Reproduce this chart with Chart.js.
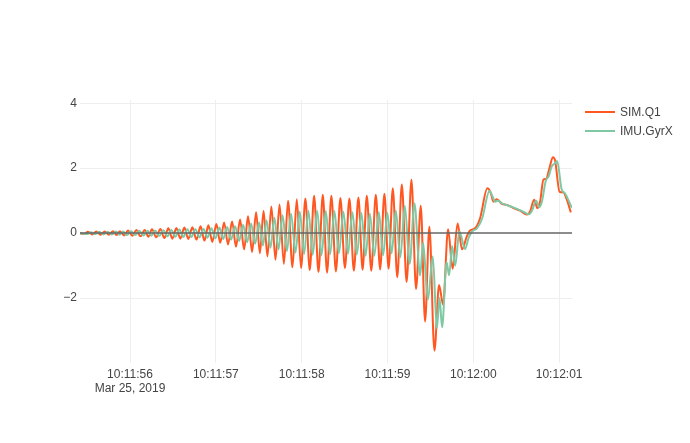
<!DOCTYPE html>
<html>
<head>
<meta charset="utf-8">
<script src="https://cdn.jsdelivr.net/npm/chart.js@4.4.0/dist/chart.umd.min.js"></script>
<style>
  body { margin: 0; background: #fff; }
  #wrap { position: relative; width: 690px; height: 443px; }
  .leg { position: absolute; left: 585px; font: 12px "Liberation Sans", Arial, sans-serif; color: #444; }
  .leg span { display: inline-block; width: 30px; height: 2px; vertical-align: middle; margin-right: 5px; position: relative; top: -1px; }
</style>
</head>
<body>
<div id="wrap">
  <canvas id="grafico" width="690" height="443"></canvas>
  <div class="leg" style="top:105px"><span style="background:#ff5722"></span>SIM.Q1</div>
  <div class="leg" style="top:124px"><span style="background:#80c8a4"></span>IMU.GyrX</div>
</div>
<script>
// tiempo en segundos desde 10:11:00 (Mar 25, 2019)
const simTiempo = [55.417, 55.464, 55.510, 55.559, 55.607, 55.656, 55.705, 55.754, 55.802, 55.843,
    55.883, 55.930, 55.977, 56.026, 56.073, 56.122, 56.171, 56.214, 56.256, 56.305,
    56.353, 56.400, 56.446, 56.493, 56.540, 56.586, 56.633, 56.679, 56.726, 56.774,
    56.822, 56.867, 56.913, 56.959, 57.006, 57.051, 57.096, 57.142, 57.189, 57.235,
    57.282, 57.329, 57.375, 57.422, 57.469, 57.513, 57.556, 57.601, 57.647, 57.695,
    57.742, 57.793, 57.841, 57.893, 57.943, 57.993, 58.043, 58.094, 58.145, 58.196,
    58.246, 58.296, 58.346, 58.399, 58.451, 58.504, 58.556, 58.608, 58.661, 58.710,
    58.759, 58.811, 58.864, 58.914, 58.964, 59.013, 59.062, 59.114, 59.167, 59.223,
    59.279, 59.333, 59.388, 59.438, 59.488, 59.547, 59.601, 59.648, 59.706, 59.759,
    59.817, 59.869, 59.924, 59.963, 60.021, 60.079, 60.164, 60.204, 60.234, 60.274,
    60.332, 60.390, 60.467, 60.545, 60.624, 60.662, 60.709, 60.747, 60.779, 60.817,
    60.848, 60.887, 60.927, 60.953, 61.004, 61.050, 61.090, 61.136];
const simValores = [0, -0.03, 0.04, -0.04, 0.05, -0.05, 0.05, -0.05, 0.06, -0.06,
    0.06, -0.07, 0.08, -0.08, 0.1, -0.1, 0.1, -0.11, 0.12, -0.13,
    0.13, -0.15, 0.15, -0.17, 0.16, -0.17, 0.17, -0.18, 0.18, -0.2,
    0.21, -0.23, 0.24, -0.27, 0.28, -0.3, 0.33, -0.35, 0.36, -0.42,
    0.42, -0.5, 0.52, -0.58, 0.64, -0.62, 0.68, -0.72, 0.82, -0.82,
    0.88, -0.95, 1.0, -1.05, 1.04, -1.08, 1.07, -1.14, 1.15, -1.2,
    1.18, -1.22, 1.15, -1.18, 1.08, -1.08, 1.07, -1.16, 1.1, -1.13,
    1.15, -1.16, 1.18, -1.12, 1.21, -1.1, 1.38, -1.36, 1.5, -1.5,
    1.64, -1.72, 0.84, -2.72, 0.2, -3.62, -1.6, -2.2, 0.12, -1.1,
    0.3, -0.5, -0.1, 0.08, 0.15, 0.46, 1.38, 1.23, 0.97, 1.04,
    0.9, 0.87, 0.77, 0.69, 0.57, 0.67, 1.03, 0.77, 0.98, 1.65,
    1.67, 2.0, 2.34, 2.24, 1.28, 1.25, 1.03, 0.64];

const imuTiempo = [55.417, 55.499, 55.545, 55.594, 55.642, 55.691, 55.740, 55.789, 55.837, 55.878,
    55.918, 55.965, 56.012, 56.061, 56.108, 56.157, 56.206, 56.249, 56.291, 56.340,
    56.388, 56.435, 56.481, 56.528, 56.575, 56.621, 56.668, 56.714, 56.761, 56.809,
    56.857, 56.902, 56.948, 56.994, 57.041, 57.086, 57.131, 57.177, 57.224, 57.270,
    57.317, 57.364, 57.410, 57.457, 57.504, 57.548, 57.591, 57.636, 57.682, 57.730,
    57.777, 57.828, 57.876, 57.928, 57.978, 58.028, 58.078, 58.129, 58.180, 58.231,
    58.281, 58.331, 58.381, 58.434, 58.486, 58.539, 58.591, 58.643, 58.696, 58.745,
    58.794, 58.846, 58.899, 58.949, 58.999, 59.048, 59.097, 59.149, 59.202, 59.258,
    59.314, 59.380, 59.415, 59.470, 59.528, 59.575, 59.607, 59.636, 59.689, 59.718,
    59.753, 59.788, 59.838, 59.904, 59.945, 59.986, 60.044, 60.103, 60.188, 60.225,
    60.254, 60.289, 60.347, 60.406, 60.487, 60.569, 60.645, 60.685, 60.732, 60.770,
    60.802, 60.843, 60.878, 60.913, 60.953, 60.977, 61.029, 61.070, 61.111, 61.148];
const imuValores = [0, -0.03, 0.03, -0.03, 0.04, -0.04, 0.04, -0.04, 0.05, -0.05,
    0.05, -0.06, 0.06, -0.06, 0.07, -0.07, 0.07, -0.08, 0.08, -0.09,
    0.09, -0.1, 0.1, -0.11, 0.11, -0.12, 0.12, -0.12, 0.12, -0.13,
    0.13, -0.14, 0.15, -0.16, 0.17, -0.18, 0.19, -0.2, 0.21, -0.24,
    0.25, -0.28, 0.3, -0.33, 0.33, -0.38, 0.4, -0.45, 0.47, -0.5,
    0.55, -0.55, 0.6, -0.6, 0.66, -0.65, 0.69, -0.67, 0.69, -0.68,
    0.68, -0.66, 0.68, -0.62, 0.66, -0.64, 0.64, -0.66, 0.62, -0.7,
    0.6, -0.7, 0.64, -0.68, 0.62, -0.62, 0.7, -0.75, 0.84, -0.95,
    0.92, -1.3, -0.3, -2.05, -0.72, -2.93, -2.0, -2.9, -0.9, -1.3,
    -0.4, -1.0, 0.05, -0.49, -0.15, 0.05, 0.15, 0.45, 1.3, 1.12,
    0.97, 1.0, 0.9, 0.85, 0.77, 0.68, 0.58, 0.7, 1.0, 0.8,
    1.0, 1.6, 1.75, 2.05, 2.15, 2.22, 1.35, 1.22, 1.0, 0.78];

const ticksX = [56, 57, 58, 59, 60, 61];
const ticksY = [-2, 0, 2, 4];
const fechaEtiqueta = 'Mar 25, 2019';

function aPuntos(tiempos, valores) {
    return tiempos.map((t, i) => ({ x: t, y: valores[i] }));
}

function formatoHora(s) {
    const m = 11 + Math.floor(s / 60);
    const seg = Math.round(s % 60);
    return '10:' + String(m).padStart(2, '0') + ':' + String(seg).padStart(2, '0');
}

const fuente = { family: '"Liberation Sans", Arial, sans-serif', size: 12 };

const ctx = document.getElementById('grafico').getContext('2d');
new Chart(ctx, {
    type: 'line',
    data: {
        datasets: [
            {
                label: 'cero',
                data: [{ x: 55.417, y: 0 }, { x: 61.15, y: 0 }],
                borderColor: '#666',
                borderWidth: 1.5,
                pointRadius: 0,
                order: 0
            },
            {
                label: 'IMU.GyrX',
                data: aPuntos(imuTiempo, imuValores),
                borderColor: '#80c8a4',
                borderWidth: 2,
                pointRadius: 0,
                cubicInterpolationMode: 'monotone',
                order: 1
            },
            {
                label: 'SIM.Q1',
                data: aPuntos(simTiempo, simValores),
                borderColor: '#ff5722',
                borderWidth: 2,
                pointRadius: 0,
                cubicInterpolationMode: 'monotone',
                order: 2
            }
        ]
    },
    options: {
        responsive: false,
        animation: false,
        devicePixelRatio: 1,
        layout: { padding: { top: 100, right: 118, bottom: 0, left: 0 } },
        plugins: { legend: { display: false }, tooltip: { enabled: false } },
        scales: {
            x: {
                type: 'linear',
                min: 55.417,
                max: 61.15,
                afterBuildTicks: axis => { axis.ticks = ticksX.map(v => ({ value: v })); },
                afterFit: scale => { scale.height = 80; },
                border: { display: false },
                grid: { color: '#eeeeee', drawTicks: false },
                ticks: {
                    padding: 4,
                    maxRotation: 0,
                    color: '#444',
                    font: fuente,
                    callback: v => v === 56 ? [formatoHora(v), fechaEtiqueta] : formatoHora(v)
                }
            },
            y: {
                min: -4,
                max: 4.1,
                afterBuildTicks: axis => { axis.ticks = ticksY.map(v => ({ value: v })); },
                afterFit: scale => { scale.width = 80; },
                border: { display: false },
                grid: {
                    drawTicks: false,
                    color: c => c.tick && c.tick.value === 0 ? 'rgba(0,0,0,0)' : '#eeeeee'
                },
                ticks: {
                    padding: 3,
                    color: '#444',
                    font: fuente,
                    callback: v => v < 0 ? '\u2212' + Math.abs(v) : String(v)
                }
            }
        }
    }
});
</script>
</body>
</html>
